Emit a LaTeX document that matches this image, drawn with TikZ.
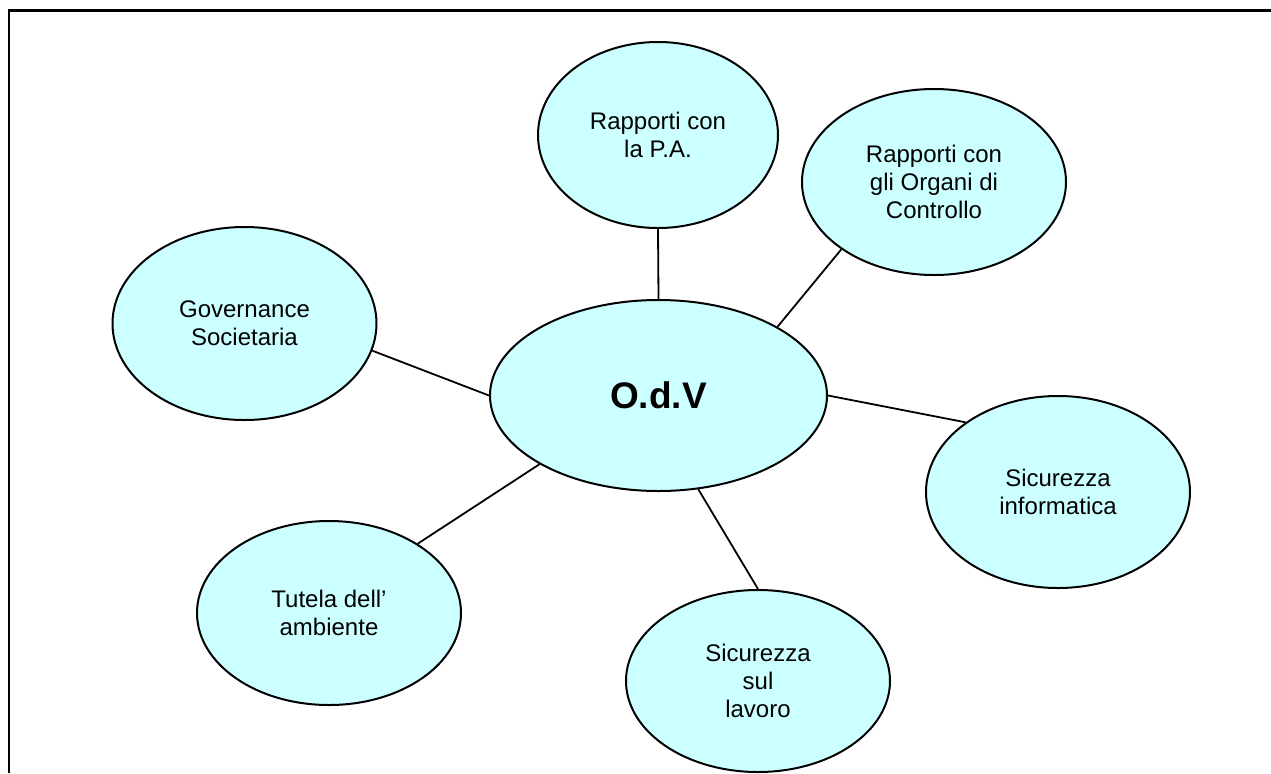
\documentclass[tikz,border=0pt]{standalone}
\usepackage{fontspec}
\setmainfont{Liberation Sans}
\usepackage{xcolor}
\usetikzlibrary{shapes.geometric}
\definecolor{bubblecyan}{RGB}{204,255,255}

\begin{document}
\begin{tikzpicture}[
    x=0.5pt, y=-0.5pt,
    font=\fontsize{12}{13.8}\selectfont,
    topic/.style={draw, ellipse, fill=bubblecyan, line width=1pt, inner sep=0pt, align=center, minimum width=132pt, minimum height=93pt},
    hub/.style={topic, minimum width=168.5pt, minimum height=95.5pt, font=\fontsize{18.5}{22}\selectfont\bfseries},
    link/.style={line width=0.9pt}
]
\useasboundingbox (0,0) rectangle (1271,773);
\draw[line width=1.1pt] (9,773) -- (9,10.5) -- (1271,10.5);

\node[hub] (odv) at (658.5,395.5) {O.d.V};
\node[topic, minimum width=120pt] (pa) at (658,135) {Rapporti con\\la P.A.};
\node[topic] (org) at (934,182) {Rapporti con\\gli Organi di\\Controllo};
\node[topic, minimum height=96.5pt] (gov) at (244.5,323.5) {Governance\\Societaria};
\node[topic, minimum height=96pt] (info) at (1058,492) {Sicurezza\\informatica};
\node[topic, minimum height=92pt] (tut) at (329,613) {Tutela dell’\\ambiente};
\node[topic, minimum height=91pt] (lav) at (758,681) {Sicurezza\\sul\\lavoro};

\draw[link] (pa.south) -- (odv.north);
\draw[link] (odv.30) -- (org.216);
\draw[link] (gov.-12) -- (odv.west);
\draw[link] (odv.east) -- (info.143);
\draw[link] (odv.210) -- (tut.38);
\draw[link] (odv.293) -- (lav.north);
\end{tikzpicture}
\end{document}
